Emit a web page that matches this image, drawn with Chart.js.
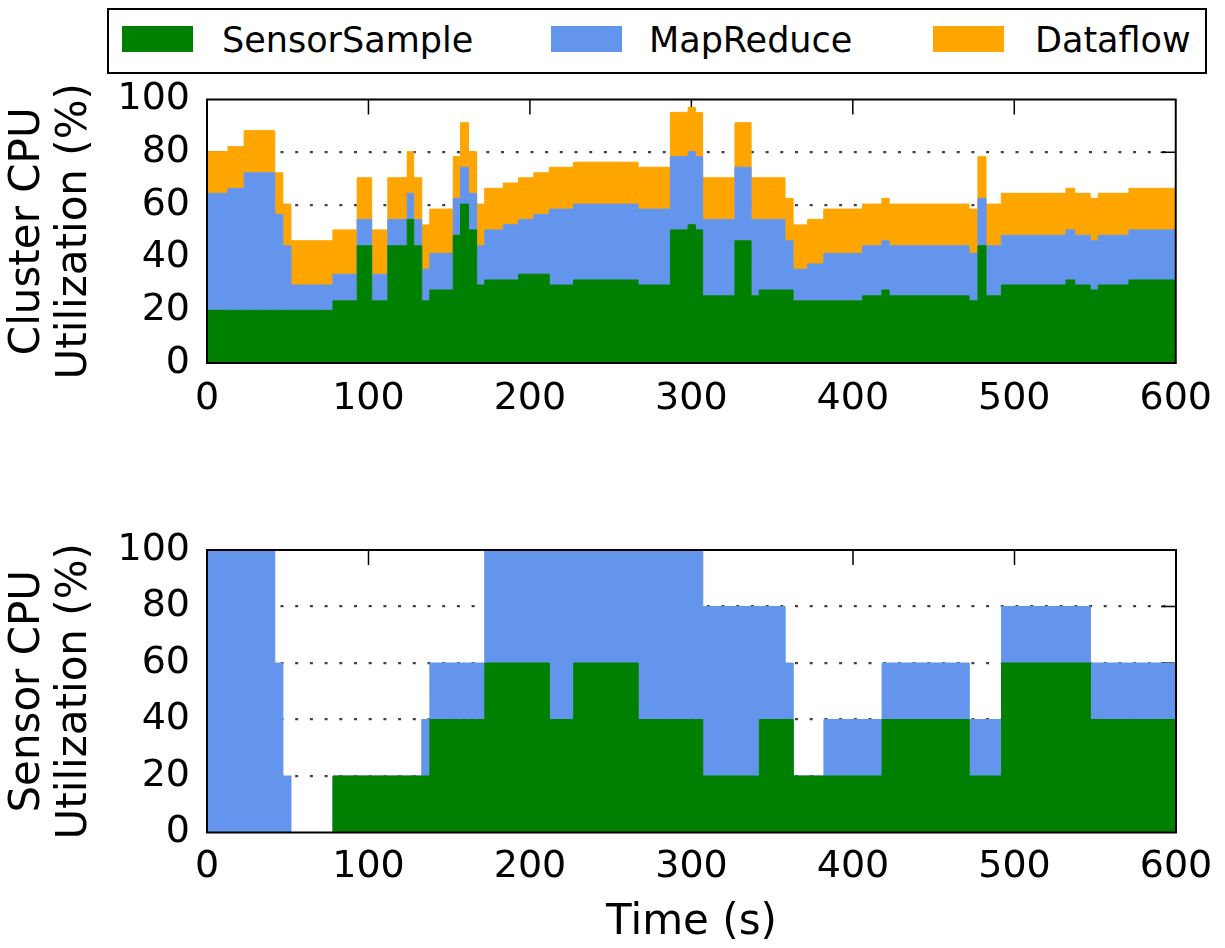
<!DOCTYPE html>
<html>
<head>
<meta charset="utf-8">
<script src="https://cdn.jsdelivr.net/npm/chart.js@4.4.1/dist/chart.umd.min.js"></script>
<style>
html,body{margin:0;padding:0;background:#fff;}
#wrap{position:relative;width:1225px;height:948px;overflow:hidden;font-family:'DejaVu Sans',sans-serif;}
#wrap canvas{position:absolute;left:0;}
#legend{position:absolute;left:107px;top:8px;width:1100px;height:66px;border:2px solid #000;box-sizing:border-box;background:#fff;}
#legend .sw{position:absolute;top:16px;width:71px;height:26px;}
#legend .tx{position:absolute;top:13px;font-size:35px;line-height:35px;color:#000;white-space:nowrap;}
</style>
</head>
<body>
<div id="wrap">
  <div id="legend"></div>
  <canvas id="top" width="1225" height="391" style="top:49px"></canvas>
  <canvas id="bottom" width="1225" height="448" style="top:500px"></canvas>
</div>
<script>
// ---------------- data ----------------
// step boundaries (s); each value holds from times[i] to times[i+1]
const times = [0, 13, 23, 42, 47, 52, 78, 93, 102, 112, 124, 128, 133, 138, 152.5, 157, 162, 167, 172, 183.5,
  193, 202.5, 212, 227, 267, 287, 298, 302.5, 307, 327, 337, 342, 358, 363, 372, 382, 406, 418, 422.5,
  472, 477.5, 482.5, 492, 532, 537.5, 547, 552, 571, 600];

const seriesNames = ['SensorSample', 'MapReduce', 'Dataflow'];
const seriesColors = ['#008000', '#6495ED', '#FFA500'];

// Cluster CPU utilization (%) per step, per workload
const clusterSensorSample = [20, 20, 20, 20, 20, 20, 23.6, 44.5, 23.6, 44.5, 54.5, 44.5, 23.6, 27.7, 48.5, 60.3,
  50.5, 29.6, 31.5, 31.5, 33.7, 33.7, 29.6, 31.5, 29.6, 50.5, 52.5, 50.5, 25.5, 46.4, 25.5, 27.7, 27.7,
  23.6, 23.6, 23.6, 25.5, 27.7, 25.5, 23.6, 44.5, 25.5, 29.6, 31.5, 29.6, 27.7, 29.6, 31.5];
const clusterMapReduce = [44.4, 46.3, 52.2, 36.4, 24.5, 9.6, 10.1, 10, 10.1, 10, 9.9, 10, 12, 13.9, 14, 14,
  13.9, 14.9, 19, 21, 20.8, 22.7, 28.8, 28.8, 28.8, 27.8, 27.7, 27.8, 29, 27.9, 29, 26.8, 18.7,
  12, 14, 18, 19, 18.7, 19, 18, 18, 19, 18.9, 19, 18.9, 18.7, 18.9, 19];
const clusterDataflow = [15.8, 15.8, 16, 15.8, 15.8, 16.8, 16.8, 15.8, 16.8, 15.8, 15.8, 15.8, 16.8, 16.8, 15.8, 16.9,
  15.8, 15.8, 15.8, 15.8, 15.8, 15.8, 15.9, 15.9, 15.9, 16.8, 16.8, 16.8, 15.8, 16.9, 15.8, 15.8, 16.1,
  16.8, 16.9, 16.8, 15.8, 16.1, 15.8, 16.8, 15.8, 15.8, 15.9, 15.8, 15.9, 16.1, 15.9, 15.8];

// Sensor CPU utilization (%) per step, per workload
const sensorSensorSample = [0, 0, 0, 0, 0, 0, 20, 20, 20, 20, 20, 20, 20, 40, 40, 40, 40, 40, 60, 60, 60, 60,
  40, 60, 40, 40, 40, 40, 20, 20, 20, 40, 40, 20, 20, 20, 20, 40, 40, 20, 20, 20, 60, 60, 60, 40, 40, 40];
const sensorMapReduce = [100, 100, 100, 60, 20, 0, 0, 0, 0, 0, 0, 0, 20, 20, 20, 20, 20, 20, 40, 40, 40, 40,
  60, 40, 60, 60, 60, 60, 60, 60, 60, 40, 20, 0, 0, 20, 20, 20, 20, 20, 20, 20, 20, 20, 20, 20, 20, 20];

const xTicks = [0, 100, 200, 300, 400, 500, 600];
const yTicks = [0, 20, 40, 60, 80, 100];

// ---------------- legend (HTML) ----------------
const legendPos = [{sw: 13, tx: 113}, {sw: 442, tx: 540}, {sw: 824, tx: 926}];
const legendEl = document.getElementById('legend');
seriesNames.forEach((n, i) => {
  const s = document.createElement('div'); s.className = 'sw';
  s.style.left = legendPos[i].sw + 'px'; s.style.background = seriesColors[i];
  const t = document.createElement('div'); t.className = 'tx';
  t.style.left = legendPos[i].tx + 'px'; t.textContent = n;
  legendEl.appendChild(s); legendEl.appendChild(t);
});

// ---------------- chart helpers ----------------
Chart.defaults.font.family = "'DejaVu Sans', sans-serif";
Chart.defaults.color = '#000';

function stepPoints(vals) {
  return times.map((t, i) => ({x: t, y: vals[Math.min(i, vals.length - 1)]}));
}
function makeDatasets(list) {
  return list.map((vals, i) => ({
    label: seriesNames[i],
    data: stepPoints(vals),
    stepped: true,
    fill: i === 0 ? 'origin' : '-1',
    backgroundColor: seriesColors[i],
    borderColor: seriesColors[i],
    borderWidth: 1,
    pointRadius: 0,
    pointHoverRadius: 0
  }));
}

const tickMarks = {
  id: 'tickMarks',
  beforeDatasetsDraw(chart) {
    const {ctx, chartArea: a, scales: {x, y}} = chart;
    ctx.save();
    ctx.strokeStyle = '#000';
    ctx.lineWidth = 1.5;
    ctx.beginPath();
    xTicks.slice(1, -1).forEach(v => {
      const px = x.getPixelForValue(v);
      ctx.moveTo(px, a.top); ctx.lineTo(px, a.top + 15);
      ctx.moveTo(px, a.bottom); ctx.lineTo(px, a.bottom - 15);
    });
    yTicks.slice(1, -1).forEach(v => {
      const py = y.getPixelForValue(v);
      ctx.moveTo(a.left, py); ctx.lineTo(a.left + 15, py);
      ctx.moveTo(a.right, py); ctx.lineTo(a.right - 15, py);
    });
    ctx.stroke();
    ctx.restore();
  }
};
const frame = {
  id: 'frame',
  afterDatasetsDraw(chart) {
    const {ctx, chartArea: a} = chart;
    ctx.save();
    ctx.strokeStyle = '#000';
    ctx.lineWidth = 2;
    ctx.strokeRect(a.left, a.top, a.right - a.left, a.bottom - a.top);
    ctx.restore();
  }
};

function makeChart(id, datasets, yTitle, xTitle, padTop, xHeight, xPad) {
  return new Chart(document.getElementById(id), {
    type: 'line',
    data: {datasets},
    plugins: [tickMarks, frame],
    options: {
      responsive: false,
      animation: false,
      devicePixelRatio: 1,
      layout: {padding: {top: padTop, right: 49, left: 0, bottom: 0}},
      plugins: {legend: {display: false}, tooltip: {enabled: false}},
      elements: {line: {tension: 0}},
      scales: {
        x: {
          type: 'linear', min: 0, max: 600,
          grid: {display: false, drawTicks: false},
          border: {display: false},
          afterBuildTicks: s => { s.ticks = xTicks.map(v => ({value: v})); },
          ticks: {font: {size: 38}, padding: xPad, maxRotation: 0, autoSkip: false},
          title: xTitle ? {display: true, text: xTitle, font: {size: 42, lineHeight: 1.12}, padding: {top: 0, bottom: 1.5}} : {display: false},
          afterFit: s => { s.height = xHeight; }
        },
        y: {
          type: 'linear', min: 0, max: 100, stacked: true,
          afterBuildTicks: s => { s.ticks = yTicks.map(v => ({value: v})); },
          grid: {
            drawTicks: false,
            color: c => (c.tick && (c.tick.value === 0 || c.tick.value === 100)) ? 'rgba(0,0,0,0)' : 'rgba(0,0,0,0.75)',
            lineWidth: 2.2
          },
          border: {display: false, dash: [3, 11.7]},
          ticks: {font: {size: 38}, padding: 17},
          title: {display: true, text: yTitle, font: {size: 42, lineHeight: 1.12}, padding: {top: 5, bottom: 0}},
          afterFit: s => { s.width = 207; }
        }
      }
    }
  });
}

makeChart('top', makeDatasets([clusterSensorSample, clusterMapReduce, clusterDataflow]),
  ['Cluster CPU', 'Utilization (%)'], null, 50.5, 77, 13);
makeChart('bottom', makeDatasets([sensorSensorSample, sensorMapReduce]),
  ['Sensor CPU', 'Utilization (%)'], 'Time (s)', 50, 115.5, 12);
</script>
</body>
</html>
